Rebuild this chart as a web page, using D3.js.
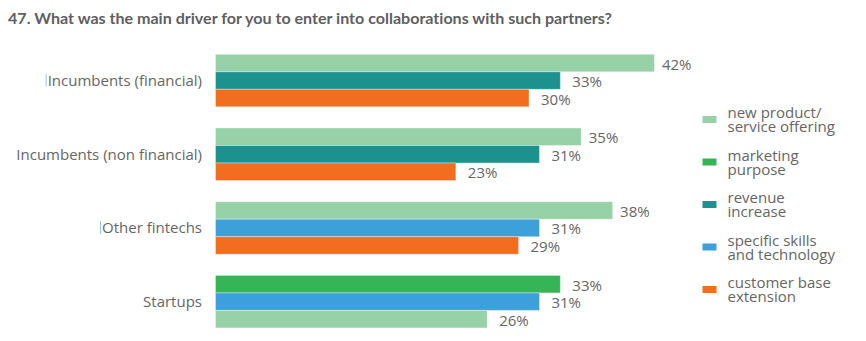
<!DOCTYPE html>
<html>
<head>
<meta charset="utf-8">
<script src="https://cdn.jsdelivr.net/npm/d3@7"></script>
<style>
  html, body { margin: 0; padding: 0; background: #ffffff; }
  svg { display: block; }
  text { font-family: "Open Sans", Lato, sans-serif; font-variant-ligatures: none; }
  text.title { font-family: Lato, "Open Sans", sans-serif; }
</style>
</head>
<body>
<svg id="chart" width="866" height="341"></svg>
<script>
// Survey question 47: main driver for collaborating, by partner type
const title = "47. What was the main driver for you to enter into collaborations with such partners?";

const categories = [
  "Incumbents (financial)",
  "Incumbents (non financial)",
  "Other fintechs",
  "Startups"
];

const seriesKeys = ["new", "marketing", "revenue", "skills", "customer"];
const seriesNames = [
  ["new product/", "service offering"],
  ["marketing", "purpose"],
  ["revenue", "increase"],
  ["specific skills", "and technology"],
  ["customer base", "extension"]
];
const seriesColors = ["#97d1a7", "#36b556", "#1d918e", "#3da0da", "#f36d21"];

// Share of respondents (%) per partner type; null = not asked
const newProduct = [42, 35, 38, 26];
const marketing  = [null, null, null, 33];
const revenue    = [33, 31, null, null];
const skills     = [null, null, 31, 31];
const customer   = [30, 23, 29, null];

// Bar order within each partner group, top to bottom
const groupOrder = [
  ["new", "revenue", "customer"],
  ["new", "revenue", "customer"],
  ["new", "skills", "customer"],
  ["marketing", "skills", "new"]
];

const valuesByKey = {
  new: newProduct, marketing: marketing, revenue: revenue,
  skills: skills, customer: customer
};

const svg = d3.select("#chart");

svg.append("text")
  .attr("class", "title")
  .attr("x", 8).attr("y", 24)
  .attr("font-size", 16).attr("font-weight", 700)
  .attr("fill", "#5f5f63")
  .attr("textLength", 604).attr("lengthAdjust", "spacingAndGlyphs")
  .text(title);

const x = d3.scaleLinear().domain([0, 50]).range([215.5, 738]);
const y = d3.scaleBand().domain(categories)
  .range([54.3, 327.9]).paddingInner(0.288).paddingOuter(0);
const color = d3.scaleOrdinal().domain(seriesKeys).range(seriesColors);

const rows = [];
categories.forEach((c, gi) => {
  groupOrder[gi].forEach((k, si) => {
    rows.push({ cat: c, key: k, slot: si, value: valuesByKey[k][gi] });
  });
});

const inner = d3.scaleBand().domain([0, 1, 2]).range([0, y.bandwidth()]);

const g = svg.append("g");

g.selectAll("rect.bar").data(rows).join("rect")
  .attr("class", "bar")
  .attr("x", x(0))
  .attr("y", d => y(d.cat) + inner(d.slot))
  .attr("width", d => x(d.value) - x(0))
  .attr("height", inner.bandwidth())
  .attr("fill", d => color(d.key))
  .attr("stroke", "rgba(255,255,255,0.35)")
  .attr("stroke-width", 1);

g.selectAll("text.val").data(rows).join("text")
  .attr("class", "val")
  .attr("x", d => x(d.value) + (d.slot === 0 && d.key === "new" ? 7.5 : 12))
  .attr("y", d => y(d.cat) + inner(d.slot) + inner.bandwidth() / 2 + 6.5)
  .attr("font-size", 15)
  .attr("fill", "#666666")
  .text(d => d.value + "%");

// category axis labels
const yAxis = d3.axisLeft(y).tickSize(0).tickPadding(0);
const axisG = svg.append("g").attr("transform", "translate(202,0)").call(yAxis);
axisG.select(".domain").remove();
axisG.selectAll("text")
  .attr("font-size", 15)
  .attr("fill", "#666666")
  .attr("dy", null)
  .attr("y", 5.5)
  .style("font-family", "'Open Sans', Lato, sans-serif");

// text caret marks beside two labels
const caretCats = [categories[0], categories[2]];
axisG.selectAll("g.tick").each(function(d) {
  if (caretCats.indexOf(d) < 0) return;
  const t = d3.select(this).select("text");
  const w = t.node().getComputedTextLength();
  d3.select(this).append("line")
    .attr("x1", -w - 1.5).attr("x2", -w - 1.5)
    .attr("y1", -7).attr("y2", 6)
    .attr("stroke", "#9cc3e6").attr("stroke-width", 1);
});

// legend
const legend = svg.append("g");
const lg = legend.selectAll("g").data(seriesKeys).join("g")
  .attr("transform", (d, i) => `translate(702.5,${119.5 + i * 42.5})`);
lg.append("rect")
  .attr("x", 0).attr("y", -3.5).attr("width", 14).attr("height", 7)
  .attr("fill", d => color(d));
lg.append("text")
  .attr("x", 25).attr("y", -1.5)
  .attr("font-size", 15).attr("fill", "#666666")
  .selectAll("tspan")
  .data((d, i) => seriesNames[i])
  .join("tspan")
  .attr("x", 25)
  .attr("dy", (d, i) => i === 0 ? 0 : 14)
  .text(d => d);
</script>
</body>
</html>
